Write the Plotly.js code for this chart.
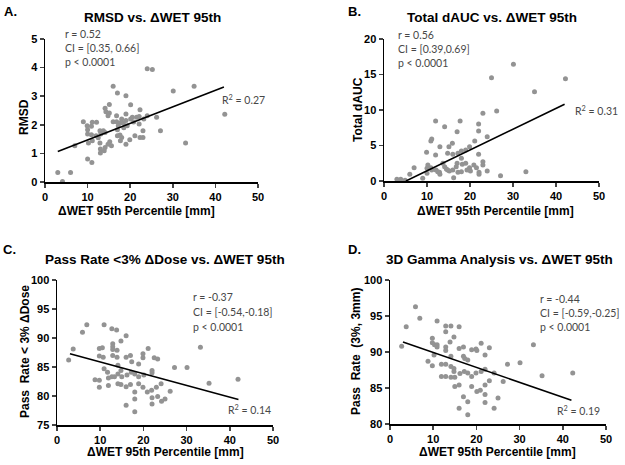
<!DOCTYPE html>
<html><head><meta charset="utf-8">
<script src="https://cdn.plot.ly/plotly-3.0.1.min.js"></script>
<style>html,body{margin:0;padding:0;background:#fff}#chart{width:625px;height:465px}</style>
</head><body><div id="chart"></div>
<script>
// Panel A: RMSD vs dWET 95th
const aX = [3.0,4.1,6.0,7.0,9.0,9.9,10.0,10.9,11.1,12.1,10.0,10.9,10.2,11.1,10.0,11.0,12.0,12.9,13.1,13.7,14.1,12.9,13.0,13.0,13.9,14.1,15.2,14.8,15.6,14.1,14.3,15.1,14.8,15.1,16.0,17.0,19.0,16.0,16.8,17.6,17.2,17.0,17.6,18.0,17.7,17.0,18.0,18.4,19.0,19.0,19.3,19.0,20.1,20.1,20.5,19.9,21.1,21.5,22.3,22.1,22.1,22.3,23.0,23.0,23.2,24.0,24.0,25.2,26.2,27.1,30.1,33.0,35.0,42.2,16.8,18.5,12.5,20.8];
const aY = [0.33,0.02,0.33,1.27,2.11,1.97,1.83,1.95,2.09,2.09,1.68,1.65,1.36,1.44,0.80,0.68,1.62,1.79,1.68,1.79,1.73,1.36,1.15,1.01,1.09,1.21,1.41,1.32,1.27,2.58,2.46,2.41,2.32,2.71,3.35,3.11,3.02,2.11,2.11,2.06,1.97,1.83,1.64,1.56,1.44,1.62,2.20,2.06,2.38,2.15,1.97,1.32,2.70,2.20,2.26,1.48,1.62,2.26,2.53,2.29,2.03,1.56,1.79,1.56,2.20,2.32,3.96,3.93,2.26,1.79,3.18,1.36,3.35,2.37,2.32,1.90,1.55,2.10];
const aFitX = [3, 42];
const aFitY = [1.07, 3.32];

// Panel B: Total dAUC vs dWET 95th
const bX = [3.0,3.9,4.9,6.0,7.0,9.0,10.0,10.0,10.2,9.9,10.9,11.1,10.9,11.1,12.0,12.0,12.1,12.9,13.0,13.0,13.7,14.1,14.1,14.8,15.1,15.2,14.8,15.9,16.0,16.0,16.2,17.0,17.2,17.0,17.2,17.7,18.0,18.0,18.2,18.0,19.0,19.0,19.3,19.9,19.9,20.1,21.1,20.9,21.5,22.0,22.0,22.0,22.1,22.1,23.0,23.0,23.0,24.0,24.0,25.0,26.2,27.1,30.1,33.0,35.0,42.2,16.8,14.5,12.5];
const bY = [0.23,0.23,0.10,0.94,1.88,0.38,1.08,1.78,2.25,4.04,1.88,1.55,5.63,5.90,8.45,3.66,1.55,1.22,4.84,0.94,2.49,2.02,7.65,3.90,4.84,1.41,1.55,5.30,3.76,1.55,0.47,6.95,3.90,2.49,1.22,8.45,4.23,3.19,2.35,1.31,4.37,2.49,1.55,4.84,1.88,1.41,5.63,2.25,1.88,8.03,7.04,3.76,1.22,0.94,9.53,2.72,2.25,6.24,1.41,14.55,9.86,0.75,16.43,1.31,12.58,14.40,2.00,1.70,1.30];
const bFitX = [5.1, 42];
const bFitY = [0, 10.8];

// Panel C: Pass Rate <3% dDose vs dWET 95th
const cX = [2.7,3.75,5.9,6.9,8.8,9.8,9.8,9.8,10.5,9.8,10.7,10.9,10.9,11.7,11.9,11.9,12.7,13.8,12.9,12.9,12.9,12.9,12.7,13.3,13.9,13.9,14.1,14.1,14.1,14.8,14.8,15.0,14.8,16.0,16.0,16.0,16.0,17.0,17.3,17.2,17.0,18.0,18.0,18.0,18.0,18.9,18.9,18.9,19.9,19.9,20.1,19.9,21.1,20.9,21.9,22.0,22.0,22.0,22.0,22.5,23.3,23.0,23.3,24.1,24.2,25.0,26.2,27.2,30.1,33.2,35.2,41.9,16.2];
const cY = [86.2,88.1,91.0,92.3,82.8,82.7,81.5,88.2,88.3,86.9,86.7,92.3,84.7,84.1,83.1,81.8,91.6,91.4,89.0,88.5,88.0,87.0,83.3,83.3,87.9,86.7,85.3,83.8,82.1,89.5,84.4,83.3,82.0,90.4,86.7,81.6,78.4,87.0,85.9,84.1,82.0,83.8,80.7,79.5,77.3,85.5,83.3,82.1,87.3,86.6,83.6,81.5,88.2,80.7,81.0,84.4,84.0,79.7,78.6,86.6,86.4,81.5,79.9,82.1,79.1,79.5,80.8,84.9,84.9,88.4,82.2,82.9,83.6];
const cFitX = [3, 42];
const cFitY = [87.3, 79.4];

// Panel D: 3D Gamma Analysis vs dWET 95th
const dX = [2.7,3.75,5.9,6.9,8.8,9.8,9.8,9.8,10.3,10.9,10.9,10.2,10.9,11.9,11.9,12.9,14.1,12.9,12.9,12.9,12.9,12.9,13.9,14.1,14.1,14.1,14.8,14.8,14.8,15.0,15.0,16.0,16.0,16.0,16.0,17.0,17.0,17.3,17.2,17.0,18.0,18.0,18.0,18.0,18.9,18.9,18.9,19.9,20.1,19.9,20.1,21.1,21.1,20.9,22.0,22.0,22.0,22.0,22.0,23.0,23.0,24.1,24.1,25.0,26.2,27.2,30.1,33.2,35.2,42.3,16.2];
const dY = [90.8,93.5,96.3,94.7,88.7,88.1,91.9,91.3,91.0,91.0,90.7,89.6,94.3,88.3,86.6,93.6,93.6,92.8,90.7,90.2,88.3,86.6,91.4,89.4,88.0,86.5,92.1,87.7,87.3,86.5,85.2,93.5,90.5,85.4,82.2,90.7,89.4,89.1,87.3,83.8,88.9,87.1,83.1,81.3,90.3,86.6,85.2,90.4,90.2,87.1,84.5,91.2,87.3,84.7,89.6,87.6,85.4,84.1,83.0,90.6,86.0,87.1,82.2,83.6,85.9,88.3,88.5,91.0,86.7,87.1,87.0];
const dFitX = [3, 42];
const dFitY = [91.4, 83.3];

const xTicks = [0, 10, 20, 30, 40, 50];
const aYTicks = [0, 1, 2, 3, 4, 5];
const bYTicks = [0, 5, 10, 15, 20];
const cYTicks = [75, 80, 85, 90, 95, 100];
const dYTicks = [80, 85, 90, 95, 100];

const dotColor = '#939393';
function scat(x, y, ax) {
  return {x: x, y: y, type: 'scatter', mode: 'markers', xaxis: 'x' + ax, yaxis: 'y' + ax,
    marker: {color: dotColor, size: 5}, hoverinfo: 'skip', showlegend: false, cliponaxis: false};
}
function fit(x, y, ax) {
  return {x: x, y: y, type: 'scatter', mode: 'lines', xaxis: 'x' + ax, yaxis: 'y' + ax,
    line: {color: '#000', width: 1.6}, hoverinfo: 'skip', showlegend: false};
}
const data = [
  scat(aX, aY, ''), fit(aFitX, aFitY, ''),
  scat(bX, bY, '2'), fit(bFitX, bFitY, '2'),
  scat(cX, cY, '3'), fit(cFitX, cFitY, '3'),
  scat(dX, dY, '4'), fit(dFitX, dFitY, '4')
];
const W = 625, H = 465;
function px(a, b) { return [a / W, b / W]; }
function py(top, bottom) { return [1 - bottom / H, 1 - top / H]; }
const tickFont = {family: 'Liberation Sans, Arial, sans-serif', size: 11, color: '#000', weight: 'bold'};
function xa(dom, anchor) {
  return {domain: dom, anchor: anchor, range: [0, 50], tickvals: xTicks, ticks: 'outside', ticklen: 4, tickwidth: 1.5,
    showline: true, linecolor: '#000', linewidth: 1.5, showgrid: false, zeroline: false, tickfont: tickFont, fixedrange: true};
}
function ya(dom, anchor, range, tv) {
  return {domain: dom, anchor: anchor, range: range, tickvals: tv, ticks: 'outside', ticklen: 4, tickwidth: 1.5,
    showline: true, linecolor: '#000', linewidth: 1.5, showgrid: false, zeroline: false, tickfont: tickFont, fixedrange: true};
}
const bold = 'Liberation Sans, Arial, sans-serif';
const reg = 'Lato, Open Sans, sans-serif';
function ann(text, x, y, o) {
  return Object.assign({text: text, x: x / W, y: 1 - y / H, xref: 'paper', yref: 'paper', showarrow: false,
    borderpad: 0, xanchor: 'center', yanchor: 'middle', font: {family: bold, size: 12, color: '#000', weight: 'bold'}}, o || {});
}
function stat(text, x, y) {
  return ann(text, x, y, {xanchor: 'left', font: {family: reg, size: 10.5, color: '#474747'}});
}
const titleFont = {family: bold, size: 13.5, color: '#000', weight: 'bold'};
const lblFont = {family: bold, size: 13, color: '#000', weight: 'bold'};
const annotations = [
  ann('A.', 10, 11, {font: lblFont}),
  ann('B.', 354, 12, {font: lblFont}),
  ann('C.', 9, 250, {font: lblFont}),
  ann('D.', 354, 250, {font: lblFont}),
  ann('RMSD vs. ΔWET 95th', 152, 17, {font: titleFont}),
  ann('Total dAUC vs. ΔWET 95th', 492, 17, {font: titleFont}),
  ann('Pass Rate <3% ΔDose vs. ΔWET 95th', 165, 259, {font: titleFont}),
  ann('3D Gamma Analysis vs. ΔWET 95th', 499, 259, {font: titleFont}),
  ann('ΔWET 95th Percentile [mm]', 136, 211),
  ann('ΔWET 95th Percentile [mm]', 495, 211),
  ann('ΔWET 95th Percentile [mm]', 165, 452),
  ann('ΔWET 95th Percentile [mm]', 497, 452),
  ann('RMSD', 24, 117, {textangle: -90}),
  ann('Total dAUC', 358, 110, {textangle: -90}),
  ann('Pass  Rate < 3% ΔDose', 25, 352, {textangle: -90}),
  ann('Pass  Rate  (3%, 3mm)', 356, 352, {textangle: -90}),
  stat('r = 0.52', 64, 34), stat('CI = [0.35, 0.66]', 64, 48), stat('p < 0.0001', 64, 62),
  stat('R<sup>2</sup> = 0.27', 221, 99),
  stat('r = 0.56', 397, 35), stat('CI = [0.39,0.69]', 397, 49), stat('p < 0.0001', 397, 63),
  stat('R<sup>2</sup> = 0.31', 574, 110),
  stat('r = -0.37', 192, 297), stat('CI = [-0.54,-0.18]', 192, 312), stat('p < 0.0001', 192, 327),
  stat('R<sup>2</sup> = 0.14', 227, 409),
  stat('r = -0.44', 539, 299), stat('CI = [-0.59,-0.25]', 539, 313), stat('p < 0.0001', 539, 327),
  stat('R<sup>2</sup> = 0.19', 556, 410)
];
const layout = {
  width: W, height: H, margin: {l: 0, r: 0, t: 0, b: 0}, paper_bgcolor: '#fff', plot_bgcolor: '#fff',
  showlegend: false,
  xaxis: xa(px(45, 258), 'y'), yaxis: ya(py(39, 182), 'x', [0, 5], aYTicks),
  xaxis2: xa(px(384, 599), 'y2'), yaxis2: ya(py(39, 181), 'x2', [0, 20], bYTicks),
  xaxis3: xa(px(57, 273), 'y3'), yaxis3: ya(py(280, 425), 'x3', [75, 100], cYTicks),
  xaxis4: xa(px(390, 606), 'y4'), yaxis4: ya(py(280, 424), 'x4', [80, 100], dYTicks),
  annotations: annotations
};
Plotly.newPlot('chart', data, layout, {staticPlot: true, displayModeBar: false});
</script></body></html>
